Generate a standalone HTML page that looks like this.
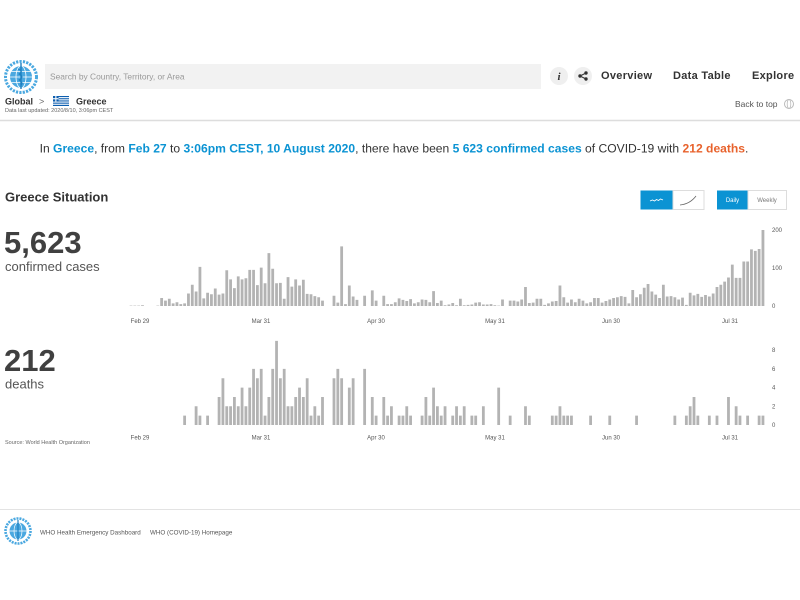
<!DOCTYPE html>
<html><head><meta charset="utf-8"><style>
html,body{margin:0;padding:0;background:#fff;width:800px;height:600px;overflow:hidden}
svg{display:block}
</style></head><body>
<svg width="800" height="600" viewBox="0 0 800 600" font-family="'Liberation Sans', Arial, sans-serif">
<rect width="800" height="600" fill="#fff"/>

<!-- WHO logo header -->
<g transform="translate(21 77)">
  <circle r="15.5" fill="none" stroke="#4aa8e0" stroke-width="3" stroke-dasharray="2.2 1.2"/>
  <circle r="11" fill="#4aa8e0"/>
  <ellipse rx="5" ry="11" fill="none" stroke="#fff" stroke-width="0.8"/>
  <line x1="-11" y1="0" x2="11" y2="0" stroke="#fff" stroke-width="0.8"/>
  <line x1="-9.5" y1="-5.5" x2="9.5" y2="-5.5" stroke="#fff" stroke-width="0.7"/>
  <line x1="-9.5" y1="5.5" x2="9.5" y2="5.5" stroke="#fff" stroke-width="0.7"/>
  <line x1="0" y1="-14" x2="0" y2="12" stroke="#1f80c0" stroke-width="1.4"/>
  <path d="M-3 -8 Q3 -6 -2 -3 Q4 0 -2 3 Q3 6 0 8" fill="none" stroke="#1f80c0" stroke-width="1"/>
</g>

<!-- search -->
<rect x="45" y="64" width="496" height="25" fill="#f2f2f2"/>
<text x="50" y="79.5" font-size="8.4" fill="#999">Search by Country, Territory, or Area</text>

<!-- icons -->
<circle cx="559" cy="76" r="9" fill="#efefef"/>
<text x="559" y="80" font-size="11" font-weight="bold" font-style="italic" font-family="'Liberation Serif', serif" text-anchor="middle" fill="#333">i</text>
<circle cx="583" cy="76" r="9" fill="#efefef"/>
<g stroke="#333" stroke-width="1" fill="#333">
  <line x1="580" y1="76" x2="586" y2="73"/><line x1="580" y1="76" x2="586" y2="79"/>
  <circle cx="580" cy="76" r="1.2"/><circle cx="586" cy="73" r="1.2"/><circle cx="586" cy="79" r="1.2"/>
</g>

<!-- nav -->
<g font-size="11" font-weight="bold" fill="#333" letter-spacing="0.3">
  <text x="601" y="79">Overview</text>
  <text x="673" y="79">Data Table</text>
  <text x="752" y="79">Explore</text>
</g>

<!-- breadcrumb -->
<text x="5" y="104.5" font-size="9" font-weight="bold" fill="#333">Global</text>
<text x="39" y="104.5" font-size="9" fill="#666">&gt;</text>
<g>
  <rect x="53" y="96" width="16" height="10" fill="#0d5eaf"/>
  <rect x="53" y="97.1" width="16" height="1.1" fill="#fff"/>
  <rect x="53" y="99.3" width="16" height="1.1" fill="#fff"/>
  <rect x="53" y="101.5" width="16" height="1.1" fill="#fff"/>
  <rect x="53" y="103.7" width="16" height="1.1" fill="#fff"/>
  <rect x="53" y="96" width="5.6" height="5.6" fill="#0d5eaf"/>
  <rect x="55.3" y="96" width="1.1" height="5.6" fill="#fff"/>
  <rect x="53" y="98.2" width="5.6" height="1.1" fill="#fff"/>
</g>
<text x="76" y="104.5" font-size="9" font-weight="bold" fill="#333">Greece</text>
<text x="5" y="112" font-size="5.5" fill="#666">Data last updated: 2020/8/10, 3:06pm CEST</text>

<text x="735" y="107" font-size="8.5" fill="#555">Back to top</text>
<circle cx="789" cy="104" r="4.5" fill="none" stroke="#bbb" stroke-width="1"/>
<ellipse cx="789" cy="104" rx="1.8" ry="4.5" fill="none" stroke="#bbb" stroke-width="0.8"/>

<line x1="0" y1="120.5" x2="800" y2="120.5" stroke="#ddd" stroke-width="1.5"/>

<!-- headline -->
<text x="394" y="152.5" font-size="12.1" text-anchor="middle" fill="#333">In <tspan font-weight="bold" fill="#0b93d3">Greece</tspan>, from <tspan font-weight="bold" fill="#0b93d3">Feb 27</tspan> to <tspan font-weight="bold" fill="#0b93d3">3:06pm CEST, 10 August 2020</tspan>, there have been <tspan font-weight="bold" fill="#0b93d3">5 623 confirmed cases</tspan> of COVID-19 with <tspan font-weight="bold" fill="#e8622c">212 deaths</tspan>.</text>

<!-- situation -->
<text x="5" y="201.5" font-size="13" font-weight="bold" fill="#333">Greece Situation</text>

<!-- toggles -->
<rect x="640.5" y="190.5" width="32.5" height="19" fill="#0b93d3"/>
<polyline points="650,201 652.5,200 654.5,201 656.5,199.5 658.5,200.5 660.5,199 663,200" fill="none" stroke="#fff" stroke-width="0.8"/>
<rect x="673" y="190.5" width="31" height="19" fill="#fff" stroke="#ddd" stroke-width="1"/>
<path d="M680 205 Q690 204 696 196" fill="none" stroke="#666" stroke-width="0.8"/>
<rect x="717" y="190.5" width="31" height="19" fill="#0b93d3"/>
<text x="732.5" y="202" font-size="6" text-anchor="middle" fill="#fff">Daily</text>
<rect x="748" y="190.5" width="38.5" height="19" fill="#fff" stroke="#ddd" stroke-width="1"/>
<text x="767" y="202" font-size="6" text-anchor="middle" fill="#777">Weekly</text>

<!-- big numbers -->
<text x="4" y="253" font-size="31" font-weight="bold" fill="#404040">5,623</text>
<text x="5" y="271" font-size="13" fill="#555">confirmed cases</text>
<text x="4" y="371" font-size="31" font-weight="bold" fill="#404040">212</text>
<text x="5" y="388.5" font-size="13" fill="#555">deaths</text>
<text x="5" y="444" font-size="5.5" fill="#666">Source: World Health Organization</text>

<!-- confirmed chart -->
<path transform="translate(129.6 306) scale(3.83 -0.38)" fill="#b3b3b3" d="M0 0
v1h.73v-1h.27v1h.73v-1h.27v1h.73v-1h.27v2h.73v-2h.27h3v1h.73v-1h.27
v21h.73v-21h.27v14h.73v-14h.27v19h.73v-19h.27v7h.73v-7h.27v10h.73v-10h.27v5h.73v-5h.27v7h.73v-7h.27v33h.73v-33h.27v56h.73v-56h.27v38h.73v-38h.27
v103h.73v-103h.27v20h.73v-20h.27v35h.73v-35h.27v31h.73v-31h.27v46h.73v-46h.27v30h.73v-30h.27v33h.73v-33h.27v94h.73v-94h.27v70h.73v-70h.27v47h.73v-47h.27
v78h.73v-78h.27v70h.73v-70h.27v73h.73v-73h.27v95h.73v-95h.27v95h.73v-95h.27v55h.73v-55h.27v101h.73v-101h.27v60h.73v-60h.27v139h.73v-139h.27v98h.73v-98h.27
v60h.73v-60h.27v61h.73v-61h.27v19h.73v-19h.27v76h.73v-76h.27v51h.73v-51h.27v70h.73v-70h.27v54h.73v-54h.27v69h.73v-69h.27v32h.73v-32h.27v31h.73v-31h.27
v26h.73v-26h.27v23h.73v-23h.27v14h.73v-14h.27h2v27h.73v-27h.27v9h.73v-9h.27v157h.73v-157h.27v5h.73v-5h.27v54h.73v-54h.27v25h.73v-25h.27v16h.73v-16h.27h1
v27h.73v-27h.27h1v41h.73v-41h.27v14h.73v-14h.27h1v27h.73v-27h.27v5h.73v-5h.27v5h.73v-5h.27v10h.73v-10h.27v20h.73v-20h.27v16h.73v-16h.27v13h.73v-13h.27
v18h.73v-18h.27v7h.73v-7h.27v10h.73v-10h.27v17h.73v-17h.27v16h.73v-16h.27v10h.73v-10h.27v39h.73v-39h.27v8h.73v-8h.27v14h.73v-14h.27v2h.73v-2h.27
v4h.73v-4h.27v8h.73v-8h.27v2h.73v-2h.27v19h.73v-19h.27
v2h.73v-2h.27v3h.73v-3h.27v4h.73v-4h.27v9h.73v-9h.27v10h.73v-10h.27v4h.73v-4h.27v4h.73v-4h.27v5h.73v-5h.27v2h.73v-2h.27v1h.73v-1h.27v17h.73v-17h.27h1
v14h.73v-14h.27v14h.73v-14h.27v12h.73v-12h.27v17h.73v-17h.27v50h.73v-50h.27v8h.73v-8h.27v9h.73v-9h.27v19h.73v-19h.27v19h.73v-19h.27v3h.73v-3h.27
v7h.73v-7h.27v12h.73v-12h.27v13h.73v-13h.27v54h.73v-54h.27v23h.73v-23h.27v9h.73v-9h.27v17h.73v-17h.27v10h.73v-10h.27v19h.73v-19h.27v14h.73v-14h.27
v7h.73v-7h.27v10h.73v-10h.27v21h.73v-21h.27v21h.73v-21h.27v9h.73v-9h.27v13h.73v-13h.27v17h.73v-17h.27v21h.73v-21h.27v23h.73v-23h.27v26h.73v-26h.27
v24h.73v-24h.27v7h.73v-7h.27v42h.73v-42h.27v23h.73v-23h.27v31h.73v-31h.27v48h.73v-48h.27v58h.73v-58h.27v38h.73v-38h.27v30h.73v-30h.27v21h.73v-21h.27
v56h.73v-56h.27v25h.73v-25h.27v26h.73v-26h.27v23h.73v-23h.27v17h.73v-17h.27v22h.73v-22h.27v3h.73v-3h.27v35h.73v-35h.27v28h.73v-28h.27v32h.73v-32h.27
v24h.73v-24h.27v29h.73v-29h.27v25h.73v-25h.27v33h.73v-33h.27v50h.73v-50h.27v56h.73v-56h.27v64h.73v-64h.27v75h.73v-75h.27v109h.73v-109h.27v74h.73v-74h.27
v74h.73v-74h.27v117h.73v-117h.27v117h.73v-117h.27v149h.73v-149h.27v145h.73v-145h.27v150h.73v-150h.27v200h.73v-200h.27Z"/>

<g font-size="6" fill="#555">
  <text x="772" y="232">200</text>
  <text x="772" y="270">100</text>
  <text x="772" y="308">0</text>
</g>
<g font-size="6" fill="#555" text-anchor="middle">
  <text x="140" y="323">Feb 29</text>
  <text x="261" y="323">Mar 31</text>
  <text x="376" y="323">Apr 30</text>
  <text x="495" y="323">May 31</text>
  <text x="611" y="323">Jun 30</text>
  <text x="730" y="323">Jul 31</text>
</g>

<!-- deaths chart -->
<path transform="translate(129.6 425) scale(3.83 -9.35)" fill="#b3b3b3" d="M0 0h14
v1h.73v-1h.27h2v2h.73v-2h.27v1h.73v-1h.27h1v1h.73v-1h.27h2v3h.73v-3h.27v5h.73v-5h.27v2h.73v-2h.27v2h.73v-2h.27v3h.73v-3h.27v2h.73v-2h.27
v4h.73v-4h.27v2h.73v-2h.27v4h.73v-4h.27v6h.73v-6h.27v5h.73v-5h.27v6h.73v-6h.27v1h.73v-1h.27v3h.73v-3h.27v6h.73v-6h.27v9h.73v-9h.27v5h.73v-5h.27
v6h.73v-6h.27v2h.73v-2h.27v2h.73v-2h.27v3h.73v-3h.27v4h.73v-4h.27v3h.73v-3h.27v5h.73v-5h.27v1h.73v-1h.27v2h.73v-2h.27v1h.73v-1h.27v3h.73v-3h.27h2
v5h.73v-5h.27v6h.73v-6h.27v5h.73v-5h.27h1v4h.73v-4h.27v5h.73v-5h.27h2v6h.73v-6h.27h1v3h.73v-3h.27v1h.73v-1h.27h1v3h.73v-3h.27v1h.73v-1h.27v2h.73v-2h.27h1
v1h.73v-1h.27v1h.73v-1h.27v2h.73v-2h.27v1h.73v-1h.27h2v1h.73v-1h.27v3h.73v-3h.27v1h.73v-1h.27v4h.73v-4h.27v2h.73v-2h.27v1h.73v-1h.27v2h.73v-2h.27h1
v1h.73v-1h.27v2h.73v-2h.27v1h.73v-1h.27v2h.73v-2h.27h1v1h.73v-1h.27v1h.73v-1h.27h1v2h.73v-2h.27h3v4h.73v-4h.27h2v1h.73v-1h.27h3v2h.73v-2h.27v1h.73v-1h.27h5
v1h.73v-1h.27v1h.73v-1h.27v2h.73v-2h.27v1h.73v-1h.27v1h.73v-1h.27v1h.73v-1h.27h4v1h.73v-1h.27h4v1h.73v-1h.27h6v1h.73v-1h.27h9v1h.73v-1h.27h2
v1h.73v-1h.27v2h.73v-2h.27v3h.73v-3h.27v1h.73v-1h.27h2v1h.73v-1h.27h1v1h.73v-1h.27h2v3h.73v-3h.27h1v2h.73v-2h.27v1h.73v-1h.27h1v1h.73v-1h.27h2
v1h.73v-1h.27v1h.73v-1h.27Z"/>

<g font-size="6" fill="#555">
  <text x="772" y="352.2">8</text>
  <text x="772" y="370.9">6</text>
  <text x="772" y="389.6">4</text>
  <text x="772" y="408.3">2</text>
  <text x="772" y="427">0</text>
</g>
<g font-size="6" fill="#555" text-anchor="middle">
  <text x="140" y="439.5">Feb 29</text>
  <text x="261" y="439.5">Mar 31</text>
  <text x="376" y="439.5">Apr 30</text>
  <text x="495" y="439.5">May 31</text>
  <text x="611" y="439.5">Jun 30</text>
  <text x="730" y="439.5">Jul 31</text>
</g>

<!-- footer -->
<line x1="0" y1="509.5" x2="800" y2="509.5" stroke="#e3e3e3" stroke-width="1"/>
<g transform="translate(18 531)">
  <circle r="12.5" fill="none" stroke="#4aa8e0" stroke-width="2.6" stroke-dasharray="2 1"/>
  <circle r="8.5" fill="#4aa8e0"/>
  <ellipse rx="4" ry="8.5" fill="none" stroke="#fff" stroke-width="0.7"/>
  <line x1="-8.5" y1="0" x2="8.5" y2="0" stroke="#fff" stroke-width="0.7"/>
  <line x1="0" y1="-11" x2="0" y2="10" stroke="#1f80c0" stroke-width="1.2"/>
</g>
<g font-size="6.25" fill="#555">
  <text x="40" y="534.5">WHO Health Emergency Dashboard</text>
  <text x="150" y="534.5">WHO (COVID-19) Homepage</text>
</g>
</svg>
</body></html>
